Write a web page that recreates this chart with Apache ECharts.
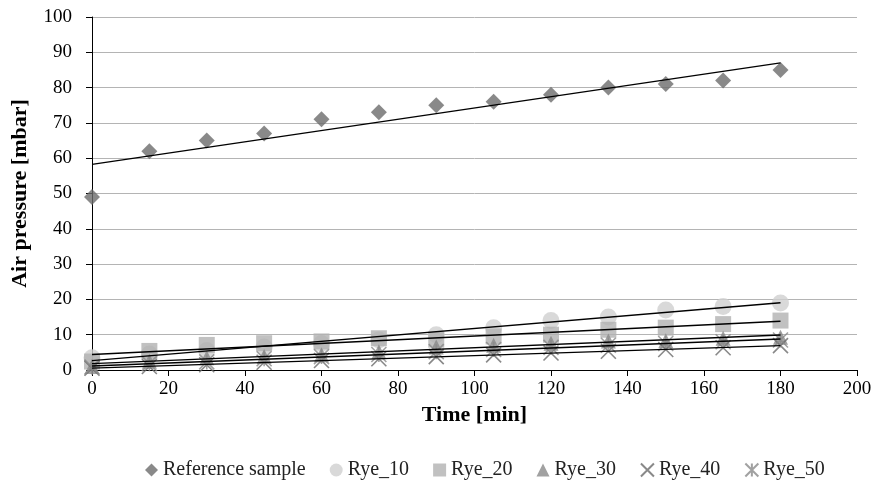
<!DOCTYPE html>
<html><head><meta charset="utf-8">
<script src="https://cdn.jsdelivr.net/npm/echarts@6/dist/echarts.min.js"></script>
<style>html,body{margin:0;padding:0;background:#fff}#c{width:895px;height:484px}</style>
</head><body><div id="c"></div>
<script>
var times = [0, 15, 30, 45, 60, 75, 90, 105, 120, 135, 150, 165, 180];
var refSample = [49, 62, 65, 67, 71, 73, 75, 76, 78, 80, 81, 82, 85];
var rye10 = [3.5, 4.5, 5.5, 6.5, 7.5, 8.5, 10, 12, 14, 15, 17, 18, 19];
var rye20 = [2.4, 5.4, 7.1, 7.6, 8.1, 9, 8.6, 9.5, 10, 11.4, 12, 13, 14];
var rye30 = [1, 2.5, 3.5, 3.8, 4.3, 5.2, 6.5, 7, 7.6, 8.2, 8.3, 9, 9.3];
var rye40 = [0.5, 1, 1.5, 2.2, 2.7, 3.2, 3.8, 4.3, 4.8, 5.3, 5.8, 6.3, 6.9];
var rye50 = [0.8, 1.8, 2.3, 3.2, 3.8, 4.4, 5.2, 5.8, 6.4, 7, 7.5, 8, 8.5];
var names = ['Reference sample', 'Rye_10', 'Rye_20', 'Rye_30', 'Rye_40', 'Rye_50'];
var xTicks = {min: 0, max: 200, interval: 20};
var yTicks = {min: 0, max: 100, interval: 10};

var seriesVals = [refSample, rye10, rye20, rye30, rye40, rye50];
var styles = [
  {symbol: 'diamond', size: 16, item: {color: '#6b6b6b'}},
  {symbol: 'circle', size: 17, item: {color: '#cfcfcf'}},
  {symbol: 'rect', size: 16, item: {color: '#b2b2b2'}},
  {symbol: 'triangle', size: 15, item: {color: '#8a8a8a'}},
  {symbol: 'path://M0,0 L10,10 M10,0 L0,10', size: 15, item: {color: 'rgba(0,0,0,0)', borderColor: '#6b6b6b', borderWidth: 1.6}},
  {symbol: 'path://M0,0 L10,10 M10,0 L0,10 M5,0 L5,10', size: 15, item: {color: 'rgba(0,0,0,0)', borderColor: '#8a8a8a', borderWidth: 1.6}}
];

function regress(xs, ys) {
  var n = xs.length, sx = 0, sy = 0, sxx = 0, sxy = 0;
  for (var i = 0; i < n; i++) { sx += xs[i]; sy += ys[i]; sxx += xs[i]*xs[i]; sxy += xs[i]*ys[i]; }
  var a = (n*sxy - sx*sy) / (n*sxx - sx*sx);
  var b = (sy - a*sx) / n;
  return [[xs[0], a*xs[0] + b], [xs[n-1], a*xs[n-1] + b]];
}

var series = [];
seriesVals.forEach(function (vals, k) {
  series.push({
    name: names[k], type: 'scatter', symbol: styles[k].symbol, symbolSize: styles[k].size,
    itemStyle: styles[k].item, z: 2,
    data: times.map(function (t, i) { return [t, vals[i]]; })
  });
});
seriesVals.forEach(function (vals, k) {
  series.push({
    name: 'trend' + k, type: 'line', data: regress(times, vals), symbol: 'none', silent: true, z: 3,
    lineStyle: {color: '#000', width: 1.4}
  });
});

var font = 'Liberation Serif';
var chart = echarts.init(document.getElementById('c'));
chart.setOption({
  animation: false,
  textStyle: {fontFamily: font},
  grid: {left: 92, right: 38, top: 17, bottom: 114},
  legend: {
    data: names, top: 455, left: 140, itemGap: 24, itemWidth: 13, itemHeight: 13,
    textStyle: {fontFamily: font, fontSize: 20, color: '#222'}
  },
  xAxis: {
    type: 'value', min: xTicks.min, max: xTicks.max, interval: xTicks.interval,
    name: 'Time [min]', nameLocation: 'middle', nameGap: 26,
    nameTextStyle: {fontFamily: font, fontSize: 22, fontWeight: 'bold', color: '#000'},
    axisLine: {lineStyle: {color: '#000', width: 1}},
    axisTick: {show: true, length: 6, lineStyle: {color: '#000'}},
    axisLabel: {fontFamily: font, fontSize: 19, color: '#000', margin: 10},
    splitLine: {show: false}
  },
  yAxis: {
    type: 'value', min: yTicks.min, max: yTicks.max, interval: yTicks.interval,
    name: 'Air pressure [mbar]', nameLocation: 'middle', nameGap: 61,
    nameTextStyle: {fontFamily: font, fontSize: 22, fontWeight: 'bold', color: '#000'},
    axisLine: {show: true, lineStyle: {color: '#000', width: 1}},
    axisTick: {show: true, length: 6, lineStyle: {color: '#000'}},
    axisLabel: {fontFamily: font, fontSize: 19, color: '#000', margin: 20},
    splitLine: {show: true, lineStyle: {color: '#b4b4b4', width: 1}}
  },
  series: series
});
</script></body></html>
